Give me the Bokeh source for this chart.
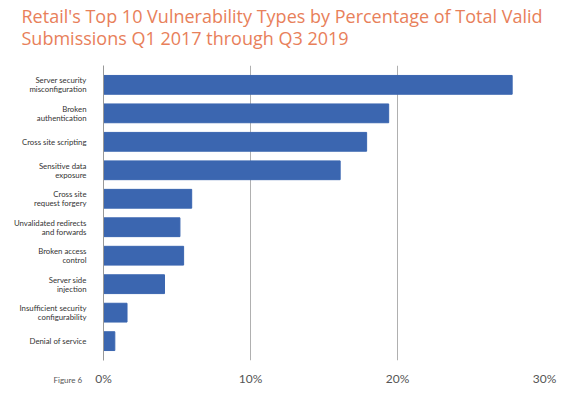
from bokeh.plotting import figure
from bokeh.models import Range1d, Title, FixedTicker, ColumnDataSource
from bokeh.embed import file_html
from bokeh.resources import INLINE

categories = [
    "Server security\nmisconfiguration",
    "Broken\nauthentication",
    "Cross site scripting",
    "Sensitive data\nexposure",
    "Cross site\nrequest forgery",
    "Unvalidated redirects\nand forwards",
    "Broken access\ncontrol",
    "Server side\ninjection",
    "Insufficient security\nconfigurability",
    "Denial of service",
]
percent = [27.8, 19.4, 17.9, 16.1, 6.0, 5.2, 5.45, 4.15, 1.6, 0.77]
x_ticks = [0, 10, 20, 30]
title_text = "Retail's Top 10 Vulnerability Types by Percentage of Total Valid\nSubmissions Q1 2017 through Q3 2019"
figure_note = "Figure 6"

TITLE_COLOR = "#E8805A"
BAR_COLOR = "#3B66B0"

n = len(categories)
ypos = [n - 1 - i for i in range(n)]  # first category at the top
source = ColumnDataSource(dict(y=ypos, right=percent, name=categories))

p = figure(
    width=565, height=394,
    y_range=Range1d(-0.68, n - 1 + 0.68),
    x_range=Range1d(0, 30),
    output_backend="svg", toolbar_location=None,
    min_border_left=103, min_border_right=21, min_border_bottom=34, min_border_top=0,
)
p.hbar(y="y", right="right", left=0, height=0.66, color=BAR_COLOR, source=source)

# spacer between the title block and the plot area
p.add_layout(Title(text=" ", text_font_size="1px", standoff=11), "above")
p.add_layout(Title(text=title_text, align="left", offset=-82, text_font="Open Sans",
                   text_font_size="18px", text_font_style="normal",
                   text_line_height=0.95,
                   text_color=TITLE_COLOR, standoff=2), "above")

p.add_layout(Title(text=figure_note, align="left", offset=-50, text_font="Lato",
                   text_font_size="8px", text_font_style="normal",
                   vertical_align="top",
                   text_color="#555555", standoff=-28), "below")

p.outline_line_color = None
p.background_fill_color = "white"
p.border_fill_color = "white"

p.ygrid.grid_line_color = None
p.xgrid.grid_line_color = "#b0b0b0"
p.xgrid.ticker = FixedTicker(ticks=x_ticks)

p.xaxis.ticker = FixedTicker(ticks=x_ticks)
p.xaxis.major_label_overrides = {t: f"{t}%" for t in x_ticks}
p.xaxis.axis_line_color = None
p.xaxis.major_tick_line_color = None
p.xaxis.minor_tick_line_color = None
p.xaxis.major_label_text_font = "Lato"
p.xaxis.major_label_text_font_size = "12px"
p.xaxis.major_label_text_color = "#555555"
p.xaxis.major_label_standoff = 4

# one tick per label line so that every line is right-aligned against the axis
y_ticks = []
y_overrides = {}
half_gap = 0.16
for cat, y in zip(categories, ypos):
    lines = cat.split("\n")
    if len(lines) == 1:
        y_ticks.append(float(y))
        y_overrides[float(y)] = lines[0]
    else:
        t1 = round(y + half_gap, 2)
        t2 = round(y - half_gap, 2)
        y_ticks += [t1, t2]
        y_overrides[t1] = lines[0]
        y_overrides[t2] = lines[1]

p.yaxis.ticker = FixedTicker(ticks=y_ticks)
p.yaxis.major_label_overrides = y_overrides
p.yaxis.axis_line_color = "#999999"
p.yaxis.major_tick_line_color = None
p.yaxis.minor_tick_line_color = None
p.yaxis.major_label_text_font = "Lato"
p.yaxis.major_label_text_font_size = "7.8px"
p.yaxis.major_label_text_color = "#333333"
p.yaxis.major_label_standoff = 11

open("out.html", "w").write(file_html(p, INLINE))
